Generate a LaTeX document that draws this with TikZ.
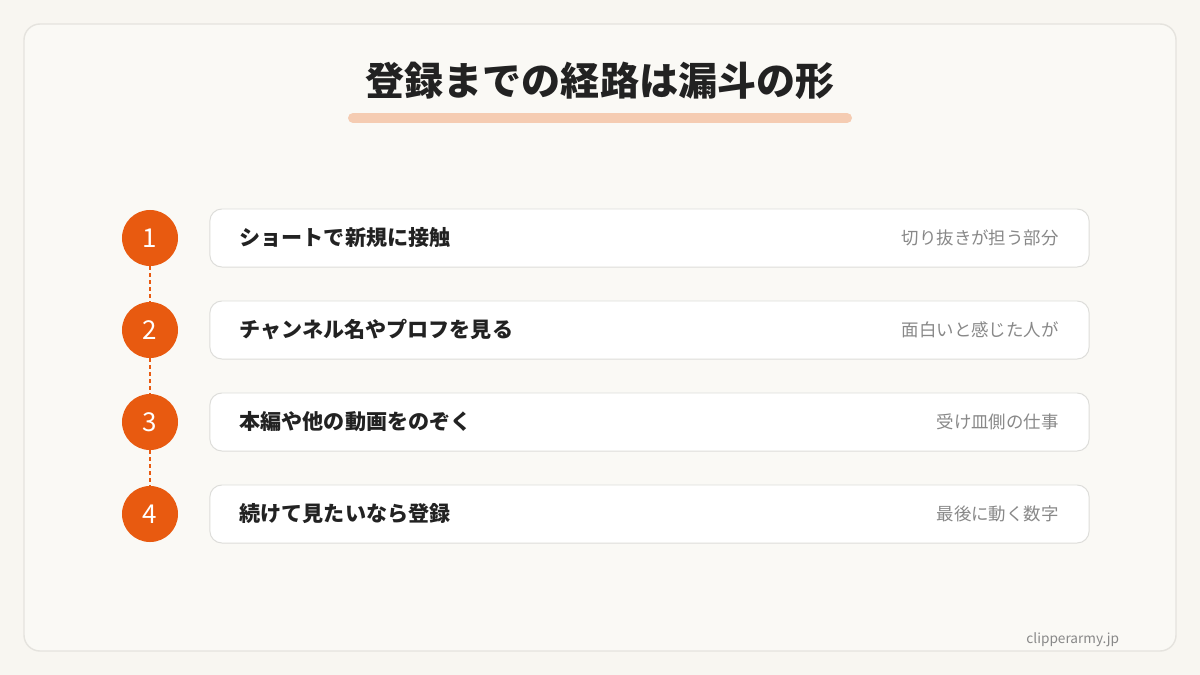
\documentclass[tikz,border=0pt]{standalone}
\usepackage{fontspec}
\setmainfont{Noto Sans CJK JP}
\usepackage{tikz}
\usetikzlibrary{positioning}
\usepackage{xcolor}
\definecolor{bgpaper}{RGB}{248,246,241}
\definecolor{panelfill}{RGB}{250,249,245}
\definecolor{panelline}{RGB}{229,227,222}
\definecolor{funnelorange}{RGB}{232,90,16}
\definecolor{barpeach}{RGB}{245,204,178}
\definecolor{boxline}{RGB}{221,221,218}
\definecolor{inkdark}{RGB}{34,34,34}
\definecolor{inkgray}{RGB}{136,136,136}
\tikzstyle{stepdot} = [circle, fill=funnelorange, text=white, minimum size=1.4cm, inner sep=0pt, font=\fontsize{18.5}{21}\selectfont]
\tikzstyle{stepbox} = [draw=boxline, line width=0.7pt, fill=white, rounded corners=0.3cm, minimum width=21.975cm, minimum height=1.45cm]
\tikzstyle{steptext} = [anchor=west, text=inkdark, font=\fontsize{15}{18}\selectfont\bfseries]
\tikzstyle{sidenote} = [anchor=east, text=inkgray, font=\fontsize{12.4}{15}\selectfont]
\tikzstyle{link} = [funnelorange, line width=2pt, dash pattern=on 2.6pt off 2.4pt]

\begin{document}
\begin{tikzpicture}[x=0.025cm, y=-0.025cm]
% Page and panel
\useasboundingbox[fill=bgpaper] (0,0) rectangle (1200,675);
\draw[panelline, fill=panelfill, line width=1pt, rounded corners=0.4cm] (24,24) rectangle (1176,651);

% Title
\node[text=inkdark, font=\fontsize{27.8}{32}\selectfont\bfseries] (title) at (600,81) {登録までの経路は漏斗の形};
\draw[barpeach, line width=0.25cm, line cap=round] (353,118) -- (847,118);

% Steps
\node[stepdot] (n1) at (150,238) {1};
\node[stepdot] (n2) at (150,330) {2};
\node[stepdot] (n3) at (150,422) {3};
\node[stepdot] (n4) at (150,514) {4};

\node[stepbox] (b1) at (649.5,238) {};
\node[stepbox] (b2) at (649.5,330) {};
\node[stepbox] (b3) at (649.5,422) {};
\node[stepbox] (b4) at (649.5,514) {};

\node[steptext] (t1) at ([xshift=0.63cm]b1.west) {ショートで新規に接触};
\node[steptext] (t2) at ([xshift=0.63cm]b2.west) {チャンネル名やプロフを見る};
\node[steptext] (t3) at ([xshift=0.63cm]b3.west) {本編や他の動画をのぞく};
\node[steptext] (t4) at ([xshift=0.63cm]b4.west) {続けて見たいなら登録};

\node[sidenote] (s1) at ([xshift=-0.65cm]b1.east) {切り抜きが担う部分};
\node[sidenote] (s2) at ([xshift=-0.65cm]b2.east) {面白いと感じた人が};
\node[sidenote] (s3) at ([xshift=-0.65cm]b3.east) {受け皿側の仕事};
\node[sidenote] (s4) at ([xshift=-0.65cm]b4.east) {最後に動く数字};

% Dotted links between steps
\draw[link] (n1.south) -- (n2.north);
\draw[link] (n2.south) -- (n3.north);
\draw[link] (n3.south) -- (n4.north);

% Footer
\node[anchor=east, text=inkgray, font=\fontsize{9.7}{12}\selectfont] (site) at (1124,640) {clipperarmy.jp};
\end{tikzpicture}
\end{document}
